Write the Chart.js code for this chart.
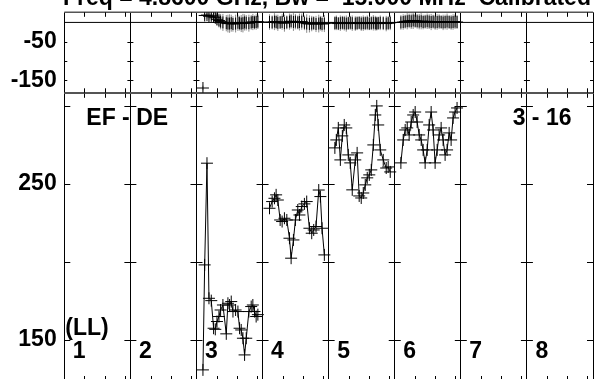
<!DOCTYPE html>
<html>
<head>
<meta charset="utf-8">
<script src="https://cdn.jsdelivr.net/npm/chart.js@4.4.1/dist/chart.umd.min.js"></script>
<style>
  body { margin: 0; background: #fff; }
  #wrap { position: relative; width: 595px; height: 379px; overflow: hidden; background: #fff; }
  #phaseChart { position: absolute; left: 0; top: -30px; }
  #ampChart { position: absolute; left: 0; top: 60px; }
</style>
</head>
<body>
<div id="wrap">
  <canvas id="ampChart" width="600" height="340"></canvas>
  <canvas id="phaseChart" width="600" height="130"></canvas>
</div>
<script>
// IF numbers along x, one panel each
const ifLabels = ['1', '2', '3', '4', '5', '6', '7', '8'];
const minorTicks = [0.305, 0.61, 0.915];

const ampTicks = [150, 200, 250, 300];
const ampTickLabels = ['150', '', '250', ''];
const phaseTicks = [-150, -100, -50];
const phaseTickLabels = ['-150', '', '-50'];

// time of each sample (in IF-panel units), per IF with data (3..6)
const times = [
  [2.098, 2.124, 2.159, 2.189, 2.224, 2.259, 2.285, 2.310, 2.340, 2.365, 2.400, 2.451, 2.476, 2.501, 2.526, 2.552, 2.592, 2.627, 2.652, 2.677, 2.703, 2.728, 2.753, 2.793, 2.828, 2.853, 2.878, 2.903, 2.929],
  [3.105, 3.145, 3.180, 3.205, 3.231, 3.266, 3.296, 3.331, 3.367, 3.407, 3.432, 3.467, 3.497, 3.533, 3.558, 3.593, 3.633, 3.668, 3.709, 3.744, 3.774, 3.809, 3.850, 3.875, 3.900, 3.935],
  [4.094, 4.116, 4.146, 4.177, 4.207, 4.236, 4.267, 4.297, 4.327, 4.357, 4.403, 4.431, 4.462, 4.493, 4.524, 4.554, 4.584, 4.615, 4.645, 4.676, 4.706, 4.728, 4.750, 4.781, 4.826, 4.871, 4.901, 4.932],
  [5.093, 5.128, 5.158, 5.189, 5.218, 5.249, 5.279, 5.309, 5.339, 5.370, 5.400, 5.430, 5.460, 5.491, 5.521, 5.551, 5.581, 5.611, 5.642, 5.672, 5.702, 5.732, 5.762, 5.792, 5.823, 5.853, 5.883, 5.913, 5.943]
];
const amps = [
  [130.6, 197.9, 263.1, 176.5, 175.0, 157.3, 156.6, 161.6, 164.8, 169.0, 172.2, 153.7, 173.3, 172.2, 174.4, 168.0, 169.0, 168.0, 157.3, 156.2, 150.9, 140.2, 150.9, 168.0, 171.2, 172.2, 168.0, 164.8, 166.0],
  [234.2, 238.5, 240.6, 242.8, 239.5, 226.7, 225.7, 227.8, 226.7, 215.0, 202.2, 213.9, 226.7, 233.1, 229.9, 235.3, 237.0, 238.5, 221.4, 218.2, 220.3, 222.5, 245.9, 241.7, 221.4, 204.3],
  [272.9, 278.0, 285.7, 265.2, 280.6, 287.6, 285.7, 268.4, 263.3, 246.0, 265.2, 269.7, 242.1, 240.8, 244.0, 249.2, 253.7, 255.6, 258.8, 274.8, 294.0, 299.8, 287.6, 271.6, 265.2, 260.0, 260.7, 257.5],
  [263.3, 278.0, 284.4, 285.7, 281.2, 289.5, 294.0, 295.9, 289.5, 281.2, 278.0, 271.6, 263.3, 271.6, 287.6, 295.9, 284.4, 263.3, 271.6, 281.2, 285.7, 278.0, 268.4, 271.6, 282.5, 278.0, 292.1, 295.9, 298.5]
];
const phases = [
  [-170, 18, 19, 16, 17, 14, 12, 8, 5, 2, 0, -2, -3, -3, -2, -4, -3, -1, -2, -3, -2, 0, -1, -2, 0, 1, 0, 1, 2],
  [1, 0, 2, 1, -1, 0, 1, -2, 0, 2, 3, 1, 2, 0, 1, 2, -1, -3, -4, -3, -2, -4, -3, -2, -4, -3],
  [-2, -1, -3, -2, -1, -2, -3, -2, -1, -2, -3, -2, -1, -3, -2, -2, -1, -3, -2, -1, -2, -3, -2, -1, -2, -3, -2, -1],
  [0, 1, 2, 3, 4, 3, 5, 4, 3, 2, 3, 1, 2, 3, 2, 1, 2, 0, 1, 2, 1, 0, 1, 2, 1, 0, 1, 2, 1]
];
const phaseErrs = [
  [6, 10, 9, 11, 12, 10, 14, 16, 18, 20, 22, 21, 23, 24, 22, 20, 23, 21, 19, 22, 24, 21, 20, 22, 19, 21, 18, 20, 19],
  [20, 18, 22, 19, 21, 17, 20, 22, 18, 21, 19, 23, 20, 18, 22, 21, 19, 24, 22, 20, 18, 21, 23, 19, 20, 22],
  [18, 19, 17, 20, 18, 19, 21, 17, 18, 20, 19, 18, 17, 19, 20, 18, 19, 17, 18, 20, 19, 18, 17, 19, 18, 20, 18, 19],
  [19, 20, 18, 21, 19, 20, 22, 18, 19, 20, 21, 19, 18, 20, 19, 21, 18, 19, 20, 19, 18, 20, 19, 21, 18, 19, 20, 19, 18]
];

const FONT = '"Liberation Sans", Arial, Helvetica, sans-serif';

function makeSets(values, errs) {
  return times.map((t, k) => ({
    data: t.map((x, i) => ({ x: x, y: values[k][i] })),
    errors: errs ? errs[k] : null,
    showLine: true,
    borderColor: '#000',
    borderWidth: 1,
    pointStyle: 'cross',
    pointRadius: 6,
    pointBorderColor: '#000',
    pointBorderWidth: 1,
    segment: {
      // phase wraps are not joined
      borderColor: ctx => Math.abs(ctx.p1.parsed.y - ctx.p0.parsed.y) > 90 ? 'rgba(0,0,0,0)' : '#000'
    }
  }));
}

const framePlugin = {
  id: 'frame',
  beforeDatasetsDraw(chart, args, opts) {
    const { ctx, chartArea: a, scales } = chart;
    const x = scales.x, y = scales.y;
    ctx.save();
    // error bars
    ctx.strokeStyle = '#8a8a8a';
    ctx.lineWidth = 1;
    chart.data.datasets.forEach((ds, k) => {
      if (!ds.errors) return;
      const meta = chart.getDatasetMeta(k);
      meta.data.forEach((pt, i) => {
        const v = ds.data[i].y, e = ds.errors[i];
        ctx.beginPath();
        ctx.moveTo(pt.x, Math.max(a.top, y.getPixelForValue(v + e)));
        ctx.lineTo(pt.x, Math.min(a.bottom, y.getPixelForValue(v - e)));
        ctx.stroke();
      });
    });
    // top / bottom border
    ctx.strokeStyle = '#555';
    ctx.lineWidth = 1.4;
    ctx.beginPath();
    ctx.moveTo(a.left, a.top); ctx.lineTo(a.right, a.top);
    ctx.moveTo(a.left, a.bottom); ctx.lineTo(a.right, a.bottom);
    ctx.stroke();
    if (opts.zeroLine) {
      ctx.strokeStyle = '#000';
      ctx.lineWidth = 1;
      const z = y.getPixelForValue(0);
      ctx.beginPath();
      ctx.moveTo(a.left, z); ctx.lineTo(a.right, z);
      ctx.stroke();
    }
    // minor time ticks along top and bottom
    ctx.strokeStyle = '#000';
    ctx.lineWidth = 1;
    ctx.beginPath();
    for (let i = 0; i < ifLabels.length; i++) {
      minorTicks.forEach(f => {
        const px = Math.round(x.getPixelForValue(i + f)) + 0.5;
        ctx.moveTo(px, a.top); ctx.lineTo(px, a.top + 4.5);
        ctx.moveTo(px, a.bottom); ctx.lineTo(px, a.bottom - 4.5);
      });
    }
    // value ticks on each panel divider
    y.ticks.forEach(t => {
      const py = Math.round(y.getPixelForValue(t.value)) + 0.5;
      for (let i = 0; i <= ifLabels.length; i++) {
        const px = x.getPixelForValue(i);
        ctx.moveTo(Math.max(a.left, px - opts.markLen), py);
        ctx.lineTo(Math.min(a.right, px + opts.markLen), py);
      }
    });
    ctx.stroke();
    ctx.restore();
  },
  afterDraw(chart, args, opts) {
    const { ctx, chartArea: a, scales } = chart;
    const x = scales.x;
    ctx.save();
    ctx.fillStyle = '#000';
    ctx.font = 'bold 23px ' + FONT;
    ctx.textBaseline = 'alphabetic';
    if (opts.title) {
      ctx.textAlign = 'left';
      ctx.fillText(opts.title, 63, a.top - 7);
    }
    if (opts.labels) {
      ctx.textAlign = 'left';
      ctx.fillText('EF - DE', a.left + 22, a.top + 32);
      ctx.fillText('(LL)', a.left + 1, a.bottom - 45.5);
      ifLabels.forEach((lab, i) => {
        ctx.fillText(lab, x.getPixelForValue(i) + 8.5, a.bottom - 22.5);
      });
      ctx.textAlign = 'right';
      ctx.fillText('3 - 16', a.right - 21.5, a.top + 32);
    }
    ctx.restore();
  }
};

function xScale() {
  return {
    type: 'linear',
    min: 0,
    max: ifLabels.length,
    afterBuildTicks: s => { s.ticks = ifLabels.concat(['']).map((_, i) => ({ value: i })); },
    afterFit: s => { s.height = 0; s.paddingLeft = 0; s.paddingRight = 0; },
    ticks: { display: false },
    grid: { color: '#000', lineWidth: 1, drawTicks: false },
    border: { display: false }
  };
}

function yScale(min, max, tickVals, tickLabels) {
  return {
    type: 'linear',
    min: min,
    max: max,
    afterBuildTicks: s => { s.ticks = tickVals.map(v => ({ value: v })); },
    // fixed axis width, and no extra room for labels near the ends
    afterFit: s => { s.width = 64.3; s.paddingTop = 0; s.paddingBottom = 0; },
    grid: { display: false, drawTicks: false },
    border: { display: false },
    ticks: {
      padding: 7.6,
      color: '#000',
      font: { family: FONT, size: 23, weight: 'bold' },
      callback: v => tickLabels[tickVals.indexOf(v)]
    }
  };
}

const common = {
  responsive: false,
  animation: false,
  plugins: { legend: { display: false }, tooltip: { enabled: false } }
};

new Chart(document.getElementById('phaseChart').getContext('2d'), {
  type: 'scatter',
  data: { datasets: makeSets(phases, phaseErrs) },
  options: {
    ...common,
    layout: { padding: { top: 42.3, bottom: 7.2, left: 0, right: 4.5 } },
    scales: { x: xScale(), y: yScale(-182.4, 26.2, phaseTicks, phaseTickLabels) },
    plugins: {
      ...common.plugins,
      frame: { markLen: 3, zeroLine: true, title: 'Freq = 4.8600 GHz, Bw =  15.000 MHz  Calibrated' }
    }
  },
  plugins: [framePlugin]
});

new Chart(document.getElementById('ampChart').getContext('2d'), {
  type: 'scatter',
  data: { datasets: makeSets(amps, null) },
  options: {
    ...common,
    layout: { padding: { top: 33.3, bottom: 19.5, left: 0, right: 4.5 } },
    scales: { x: xScale(), y: yScale(123.8, 307.9, ampTicks, ampTickLabels) },
    plugins: {
      ...common.plugins,
      frame: { markLen: 6, labels: true }
    }
  },
  plugins: [framePlugin]
});
</script>
</body>
</html>
